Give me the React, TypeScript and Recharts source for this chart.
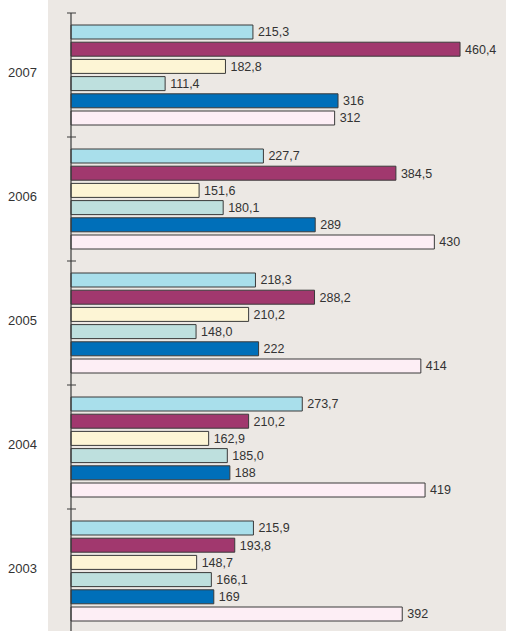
import React from "react"
import { Bar, BarChart, XAxis, YAxis, LabelList } from "recharts"

const years = ["2007", "2006", "2005", "2004", "2003"]

const seriesA = [215.3, 227.7, 218.3, 273.7, 215.9]
const seriesB = [460.4, 384.5, 288.2, 210.2, 193.8]
const seriesC = [182.8, 151.6, 210.2, 162.9, 148.7]
const seriesD = [111.4, 180.1, 148.0, 185.0, 166.1]
const seriesE = [316, 289, 222, 188, 169]
const seriesF = [312, 430, 414, 419, 392]

const series = [
  { key: "a", values: seriesA, fill: "#a9dfeb", decimals: 1 },
  { key: "b", values: seriesB, fill: "#a1386e", decimals: 1 },
  { key: "c", values: seriesC, fill: "#fdf5d5", decimals: 1 },
  { key: "d", values: seriesD, fill: "#bee0de", decimals: 1 },
  { key: "e", values: seriesE, fill: "#006fb9", decimals: 0 },
  { key: "f", values: seriesF, fill: "#fdeef5", decimals: 0 },
]

const data = years.map((year, i) => {
  const row: Record<string, string | number> = { year }
  series.forEach((s) => {
    row[s.key] = s.values[i]
  })
  return row
})

const FONT = "'Liberation Sans', Arial, Helvetica, sans-serif"
const TICK_MARGIN = 34

function YearTick(props: any) {
  const { x, y, payload, index, visibleTicksCount } = props
  const axisX = x + TICK_MARGIN
  const half = payload.offset || 62
  const isLast = index === visibleTicksCount - 1
  return (
    <g>
      <line x1={axisX - 4} x2={axisX + 5} y1={y - half} y2={y - half} stroke="#3a3a3a" strokeWidth={1} />
      {isLast && (
        <line x1={axisX - 4} x2={axisX + 5} y1={y + half} y2={y + half} stroke="#3a3a3a" strokeWidth={1} />
      )}
      <text x={x} y={y} dy={2} textAnchor="end" fill="#333" fontSize={13} fontFamily={FONT}>
        {payload.value}
      </text>
    </g>
  )
}

export default function App() {
  return (
    <div
      style={{
        position: "absolute",
        left: 0,
        top: 0,
        width: 506,
        height: 631,
        background: "#fff",
        overflow: "hidden",
      }}
    >
      <div
        style={{
          position: "absolute",
          left: 48,
          top: 0,
          width: 458,
          height: 631,
          background: "#ece8e4",
        }}
      />
      <div style={{ position: "absolute", left: 0, top: 0 }}>
        <BarChart
          width={506}
          height={640}
          data={data}
          layout="vertical"
          margin={{ top: 13, right: 12.5, bottom: 7, left: 0 }}
          barSize={14}
          barGap={3.2}
        >
          <XAxis type="number" domain={[0, 500]} hide />
          <YAxis
            type="category"
            dataKey="year"
            width={71}
            tickSize={0}
            tickMargin={TICK_MARGIN}
            tickLine={false}
            axisLine={{ stroke: "#3a3a3a", strokeWidth: 1.2 }}
            tick={<YearTick />}
            interval={0}
          />
          {series.map((s) => (
            <Bar
              key={s.key}
              dataKey={s.key}
              fill={s.fill}
              stroke="#3a3a3a"
              strokeWidth={1}
              isAnimationActive={false}
            >
              <LabelList
                dataKey={s.key}
                position="right"
                offset={5}
                fill="#333"
                fontSize={12.5}
                fontFamily={FONT}
                formatter={(v: any) => Number(v).toFixed(s.decimals).replace(".", ",")}
              />
            </Bar>
          ))}
        </BarChart>
      </div>
    </div>
  )
}
